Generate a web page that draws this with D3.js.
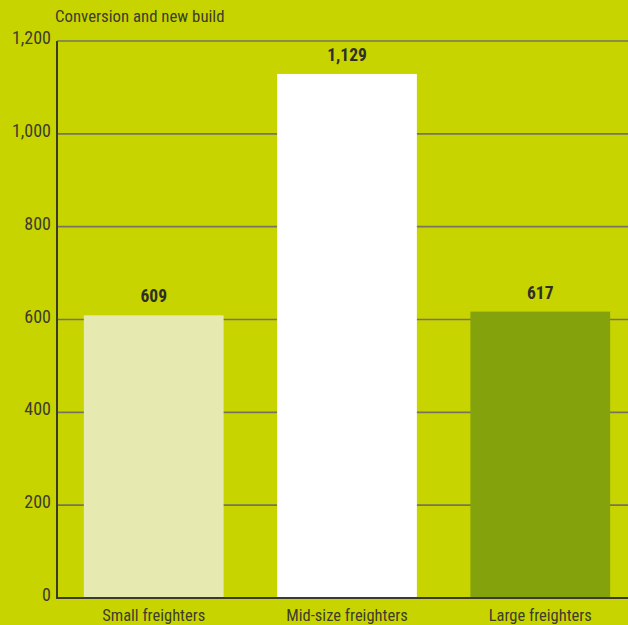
<!DOCTYPE html>
<html>
<head>
<meta charset="utf-8">
<script src="https://cdn.jsdelivr.net/npm/d3@7"></script>
<style>
  html, body { margin: 0; padding: 0; background: #c8d400; }
  svg { display: block; }
  text { font-family: "Liberation Sans Narrow", "Roboto Condensed", "Liberation Sans", sans-serif; }
</style>
</head>
<body>
<div id="chart"></div>
<script>
const categories = ["Small freighters", "Mid-size freighters", "Large freighters"];
const values = [609, 1129, 617];
const labels = ["609", "1,129", "617"];
const barColors = ["#e6eab0", "#ffffff", "#84a20c"];
const yTicks = [0, 200, 400, 600, 800, 1000, 1200];

const width = 628, height = 625;
const plotLeft = 57, plotTop = 41, plotBottom = 598;

const svg = d3.select("#chart").append("svg")
    .attr("width", width)
    .attr("height", height);

svg.append("rect")
    .attr("width", width)
    .attr("height", height)
    .attr("fill", "#c8d400");

let y = d3.scaleLinear().domain([0, 1200]).range([plotBottom, plotTop]);
let x = d3.scaleBand().domain(categories).range([plotLeft, 637])
    .paddingInner(0.277).paddingOuter(0.139);

// gridlines
svg.append("g")
    .selectAll("line")
    .data(yTicks.filter(d => d > 0))
    .enter()
    .append("line")
    .attr("x1", plotLeft)
    .attr("x2", width)
    .attr("y1", d => y(d))
    .attr("y2", d => y(d))
    .attr("stroke", "#75755f")
    .attr("stroke-width", 1.6);

// y tick labels
svg.append("g")
    .selectAll("text")
    .data(yTicks)
    .enter()
    .append("text")
    .attr("x", 51)
    .attr("y", d => y(d) + 3)
    .attr("text-anchor", "end")
    .attr("font-size", 18)
    .attr("fill", "#3d3d2e")
    .text(d => d3.format(",")(d));

// bars
svg.append("g")
    .selectAll("rect")
    .data(values)
    .enter()
    .append("rect")
    .attr("x", (d, i) => x(categories[i]))
    .attr("y", d => y(d))
    .attr("width", x.bandwidth())
    .attr("height", d => y(0) - y(d))
    .attr("fill", (d, i) => barColors[i]);

// value labels
svg.append("g")
    .selectAll("text")
    .data(values)
    .enter()
    .append("text")
    .attr("x", (d, i) => x(categories[i]) + x.bandwidth() / 2)
    .attr("y", d => y(d) - 13)
    .attr("text-anchor", "middle")
    .attr("font-size", 17.5)
    .attr("font-weight", "bold")
    .attr("fill", "#2e3028")
    .text((d, i) => labels[i]);

// axes lines
svg.append("line")
    .attr("x1", plotLeft).attr("x2", plotLeft)
    .attr("y1", plotTop).attr("y2", plotBottom + 1)
    .attr("stroke", "#3a3a30")
    .attr("stroke-width", 2);
svg.append("line")
    .attr("x1", plotLeft - 1).attr("x2", width)
    .attr("y1", plotBottom).attr("y2", plotBottom)
    .attr("stroke", "#3a3a30")
    .attr("stroke-width", 2);

// category labels
svg.append("g")
    .selectAll("text")
    .data(categories)
    .enter()
    .append("text")
    .attr("x", d => x(d) + x.bandwidth() / 2)
    .attr("y", 621)
    .attr("text-anchor", "middle")
    .attr("font-size", 16.5)
    .attr("fill", "#3d3d2e")
    .text(d => d);

// title
svg.append("text")
    .attr("x", 55)
    .attr("y", 22)
    .attr("font-size", 16.8)
    .attr("fill", "#3d3d2e")
    .text("Conversion and new build");
</script>
</body>
</html>
